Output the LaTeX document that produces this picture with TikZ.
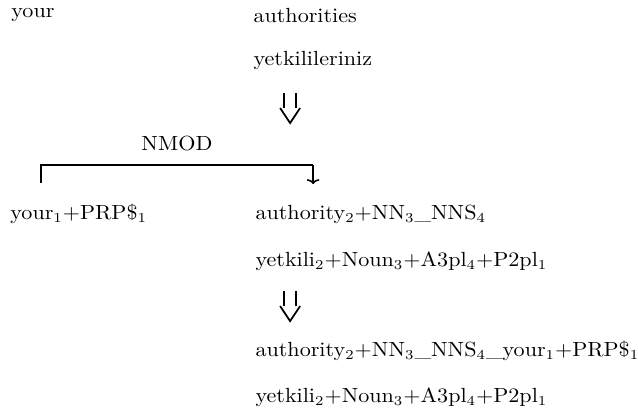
\documentclass[tikz,border=0pt]{standalone}
\usepackage{amsmath}
\usepackage{tikz}
\usetikzlibrary{arrows.meta}

\begin{document}
\begin{tikzpicture}[font=\fontsize{10.5}{12.5}\selectfont,
    word/.style={anchor=base west, inner sep=0pt, xscale=1.08},
    rewrite/.style={line width=0.9pt},
    dep/.style={line width=0.8pt}]
    \useasboundingbox (0,0) rectangle (11.5,-7.39);
    % surface words
    \node[word] (en1) at (0.198,-0.307) {your};
    \node[word] (en2) at (4.562,-0.397) {authorities};
    \node[word] (tr2) at (4.562,-1.172) {yetkilileriniz};
    % factored words
    \node[word] (fen1) at (0.18,-3.949) {your$_1$+PRP\$$_1$};
    \node[word] (fen2) at (4.598,-3.949) {authority$_2$+NN$_3$\_NNS$_4$};
    \node[word] (ftr2) at (4.598,-4.796) {yetkili$_2$+Noun$_3$+A3pl$_4$+P2pl$_1$};
    % merged words
    \node[word] (men) at (4.598,-6.419) {authority$_2$+NN$_3$\_NNS$_4$\_your$_1$+PRP\$$_1$};
    \node[word] (mtr) at (4.598,-7.248) {yetkili$_2$+Noun$_3$+A3pl$_4$+P2pl$_1$};
    % rewrite arrows
    \coordinate (down1) at (5.229,-1.677);
    \coordinate (down2) at (5.229,-5.247);
    \foreach \c in {down1,down2} {
      \draw[rewrite] (\c) ++(-0.113,0) -- ++(0,-0.27);
      \draw[rewrite] (\c) ++(0.113,0) -- ++(0,-0.27);
      \draw[rewrite] (\c) ++(-0.18,-0.27) -- ++(0.18,-0.271) -- ++(0.18,0.271);
    }
    % dependency
    \coordinate (dep1) at (0.734,-3.3);
    \coordinate (dep2) at (5.644,-2.975);
    \coordinate (dep3) at (5.644,-3.318);
    \draw[dep] (dep1) |- (dep2) node[pos=0.75,anchor=base,yshift=0.27cm,inner sep=0pt,xscale=1.08] (nmod) {NMOD};
    \draw[dep,-{To[length=2.5pt,width=6.5pt]}] (dep2) -- (dep3);
  \end{tikzpicture}
\end{document}
